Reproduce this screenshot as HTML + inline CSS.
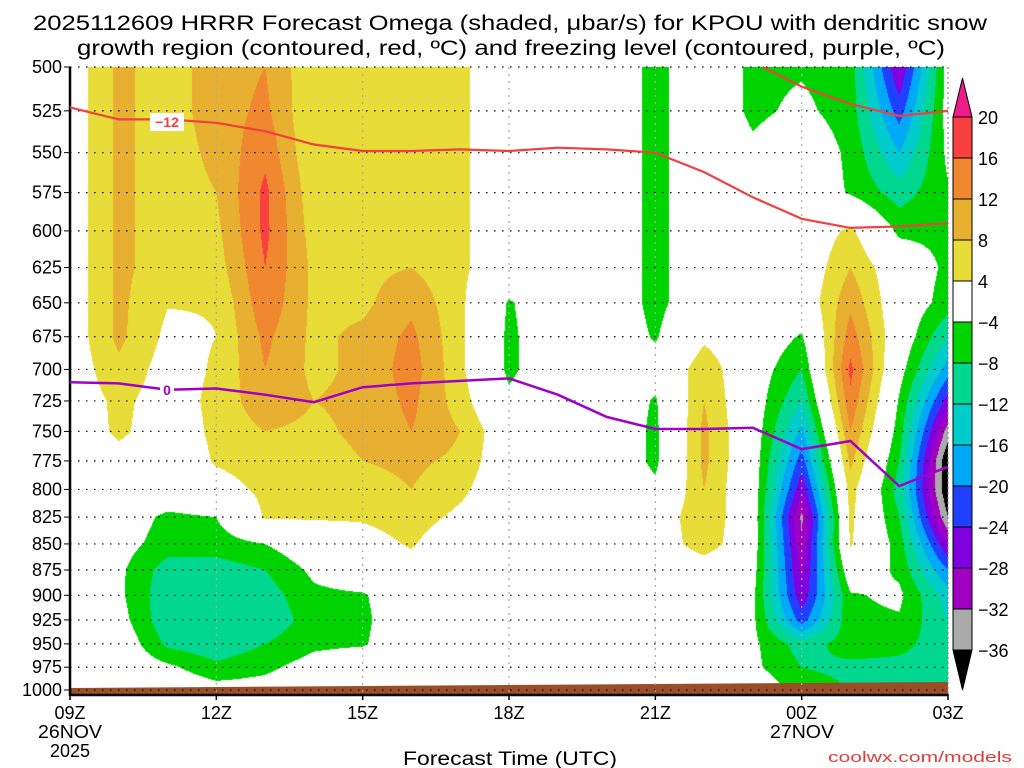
<!DOCTYPE html>
<html><head><meta charset="utf-8">
<style>
body{margin:0;background:#fff;width:1024px;height:768px;overflow:hidden;font-family:"Liberation Sans",sans-serif}
#wrap{position:relative;width:1024px;height:768px}
canvas{position:absolute;left:70px;top:67px}
svg{position:absolute;left:0;top:0}
</style></head><body>
<div id="wrap">
<canvas id="cv" width="878" height="623"></canvas>
<svg id="sv" width="1024" height="768"></svg>
</div>
<script>
// ---- data ----
const hours = ["09Z","10Z","11Z","12Z","13Z","14Z","15Z","16Z","17Z","18Z","19Z","20Z","21Z","22Z","23Z","00Z","01Z","02Z","03Z"];
const levels = [500,525,550,575,600,625,650,675,700,725,750,775,800,825,850,875,900,925,950,975,1000];
const tickLabels = ["09Z","12Z","15Z","18Z","21Z","00Z","03Z"];
const tickHours = [0,3,6,9,12,15,18];
// omega [hour][level]
const omega = [
[1,1,1,1,1,1,1,1,1,1,0,0,0,0,0,0,0,0,0,0,0],
[9,9,9,9,9,9,9,9,7,5,5,2,0,-1,-2,-3,-3,-2,0,0,0],
[6,6,6,6,6,6,4.2,3,2,2,1,0,0,-5,-6,-10,-11,-11,-9,-3,0],
[10,10,9,8,7,6,4.2,4,4.5,5,5,4.5,2,-4,-6,-10,-11.5,-11.5,-11,-7,-2],
[12,13,15,17,17,16,15,13,12,11,8,6,5,4.5,-4,-8,-10,-11,-8,-5,-2],
[4.5,4,4,5,6,7,7,7,7,8,7,6,6,4.5,0,-3,-5,-6,-5,-2,0],
[6,6,6,6,7,7,7,9,9,9,9,8,6,4.5,2,0,-4.5,-5,-4.5,0,0],
[5,5,5,6,7,8,11,13,14,13,12,9,8,6,4.5,2,0,0,0,0,0],
[5,5,5,5,5,5,5,5,5,6,8,7,5,3,0,0,0,0,0,0,0],
[0,0,0,0,0,0,-4.5,-5,-5,-3,0,0,0,0,0,0,0,0,0,0,0],
[0,0,0,0,0,0,0,0,0,0,0,0,0,0,0,0,0,0,0,0,0],
[0,0,0,0,0,0,0,0,0,0,0,0,0,0,0,0,0,0,0,0,0],
[-5.5,-5.5,-5.5,-5.5,-5.5,-5.5,-5.5,-4.5,-2,-4.5,-5,-5,-3,0,0,0,0,0,0,0,0],
[0,0,0,0,0,0,0,3,7,8,9,9,8,8,7,0,0,0,0,0,0],
[-5,-5,-3,0,0,0,0,0,-1,-1,-1,-1,-1,-1,-1,-2,-3,-3,-3,-3,0],
[-4.5,-3,0,0,0,0,0,-4.5,-8,-12,-17,-22,-27,-33,-31,-29,-27,-22,-10,-8,-6],
[-6,-6,-5,-4.5,5,8,11,14,17,15,12,9,6,5,4.5,0,-4.5,-5,-6,-9,-8],
[-28,-22,-16,-10,-5,0,0,0,-2,-4.5,-6,-8,-10,-8,-6,-5,-3,-4.5,-7,-9,-9],
[-2,-2,-3,-4.5,-5,-5,-6,-12,-18,-26,-34,-40,-40,-36,-28,-20,-14,-12,-10,-9,-9]
];
const isoM12 = [523,530,530,532,537,545,549,549,548,549,547,548,550,562,578,592,598,597,595];
const isoTopHours = [14.2,15,16,17,18];
const isoTopP = [500,511,521,528,525];
const frzLevel = [710,711,716,715,720,726,714,711,709,707,720,738,748,748,747,765,758,797,780];
const cbLabels = ["20","16","12","8","4","-4","-8","-12","-16","-20","-24","-28","-32","-36"];
const binEdges = [20,16,12,8,4,-4,-8,-12,-16,-20,-24,-28,-32,-36];
const binColors = ["#ee1a8a","#f84040","#f08830","#e8b030","#e8dc38","#ffffff","#00d400","#00d890","#00cccc","#00a8f8","#2040ff","#8000e0","#a000c0","#aaaaaa","#000000"];

// ---- axes ----
const X0=70,X1=948,Y0=67,Y1=690;
const xOf=h=>X0+h*(X1-X0)/18;
const yOf=p=>Y0+Math.log(p/500)/Math.log(2)*(Y1-Y0);
const pOf=y=>500*Math.pow(2,(y-Y0)/(Y1-Y0));
function colorFor(v){for(let i=0;i<binEdges.length;i++){if(v>=binEdges[i])return binColors[i];}return binColors[14];}

// ---- shading ----
const cv=document.getElementById('cv'),ctx=cv.getContext('2d');
const img=ctx.createImageData(878,623);
const cache={};
function rgb(c){if(!cache[c])cache[c]=[parseInt(c.substr(1,2),16),parseInt(c.substr(3,2),16),parseInt(c.substr(5,2),16)];return cache[c];}
const lnL=levels.map(p=>Math.log(p));
for(let py=0;py<623;py++){
  const lp=Math.log(pOf(Y0+py+0.5));
  let j=0;while(j<levels.length-2&&lp>lnL[j+1])j++;
  let fy=(lp-lnL[j])/(lnL[j+1]-lnL[j]);fy=Math.max(0,Math.min(1,fy));
  for(let px=0;px<878;px++){
    const h=(px+0.5)/(878/18);let i=Math.min(17,Math.floor(h));const fx=h-i;
    const v=(omega[i][j]*(1-fx)+omega[i+1][j]*fx)*(1-fy)+(omega[i][j+1]*(1-fx)+omega[i+1][j+1]*fx)*fy;
    const c=rgb(colorFor(v));const k=(py*878+px)*4;
    img.data[k]=c[0];img.data[k+1]=c[1];img.data[k+2]=c[2];img.data[k+3]=255;
  }
}
ctx.putImageData(img,0,0);

// ---- svg overlay ----
const sv=document.getElementById('sv');const NS="http://www.w3.org/2000/svg";
function mk(t,a,par){const e=document.createElementNS(NS,t);for(const k in a)e.setAttribute(k,a[k]);(par||sv).appendChild(e);return e;}
let e;
// terrain
e=mk('polygon',{points:`${X0},${694} ${X0},688 ${X1},682 ${X1},694`,fill:'#9a4e28'});


// grid
levels.forEach(p=>{
  e=mk('line',{x1:X0,x2:X1,y1:yOf(p),y2:yOf(p),stroke:'#000','stroke-width':1.2,'stroke-dasharray':'1.5 6.5'});
  
  
  e=mk('line',{x1:X0-6,x2:X0,y1:yOf(p),y2:yOf(p),stroke:'#000','stroke-width':1});
  e=mk('text',{x:X0-8,y:yOf(p)+6,'text-anchor':'end','font-size':18,fill:'#000'});
  e.textContent=p;
  
  
});
tickHours.forEach((h,i)=>{
  if(i>0&&i<6){e=mk('line',{x1:xOf(h),x2:xOf(h),y1:Y0,y2:694,stroke:'#aaa','stroke-width':1.2,'stroke-dasharray':'2 5'});
  
  }
  e=mk('line',{x1:xOf(h),x2:xOf(h),y1:694,y2:700,stroke:'#000','stroke-width':1.5});
  e=mk('text',{x:xOf(h),y:719,'text-anchor':'middle','font-size':18});
  e.textContent=tickLabels[i];
  
  
});
e=mk('line',{x1:X1,x2:X1,y1:Y0,y2:694,stroke:'#888','stroke-width':1.2,'stroke-dasharray':'2 3'});
e=mk('line',{x1:X0,x2:X0,y1:Y0,y2:696,stroke:'#000','stroke-width':2.5});


e=mk('line',{x1:X0,x2:X1,y1:695,y2:695,stroke:'#000','stroke-width':2.5});


// lines
function path(hs,ps){return hs.map((h,i)=>(i?'L':'M')+xOf(h).toFixed(1)+','+yOf(ps[i]).toFixed(1)).join(' ');}
const allH=hours.map((_,i)=>i);
e=mk('path',{d:path(allH,isoM12),fill:'none',stroke:'#f04040','stroke-width':2.2});


e=mk('path',{d:path(isoTopHours,isoTopP),fill:'none',stroke:'#f04040','stroke-width':2.2});


e=mk('path',{d:path(allH,frzLevel),fill:'none',stroke:'#a000c8','stroke-width':2.5});


e=mk('rect',{x:150,y:113,width:34,height:18,fill:'#fff'});
e=mk('text',{x:167,y:127,'text-anchor':'middle','font-size':14,'font-weight':'bold',fill:'#f04040'});e.textContent='−12';


e=mk('rect',{x:160,y:382,width:14,height:16,fill:'#fff'});
e=mk('text',{x:167,y:395,'text-anchor':'middle','font-size':14,'font-weight':'bold',fill:'#a000c8'});e.textContent='0';


// colorbar
const cbX=953,cbW=19,top0=117,step=41;
e=mk('polygon',{points:`${cbX},${top0} ${cbX+cbW/2},78 ${cbX+cbW},${top0}`,fill:binColors[0],stroke:'#000','stroke-width':1});


for(let i=1;i<14;i++){
  e=mk('rect',{x:cbX,y:top0+(i-1)*step,width:cbW,height:step,fill:binColors[i],stroke:'#000','stroke-width':1});
  
  
}
e=mk('polygon',{points:`${cbX},${top0+13*step} ${cbX+cbW/2},690 ${cbX+cbW},${top0+13*step}`,fill:'#000',stroke:'#000'});


cbLabels.forEach((l,i)=>{
  e=mk('text',{x:978,y:top0+i*step+7,'font-size':18});e.textContent=l.replace('-','−');
  
  
});
// titles
function txt(s,x,y,fs,anchor,fill,name,len){const a={x:x,y:y,'font-size':fs,'text-anchor':anchor,fill:fill||'#000'};if(len){a.textLength=len;a.lengthAdjust='spacingAndGlyphs';}e=mk('text',a);e.textContent=s;

}
txt('2025112609 HRRR Forecast Omega (shaded, μbar/s) for KPOU with dendritic snow',510,30,21,'middle','#000','title-line-1',954);
txt('growth region (contoured, red, ºC) and freezing level (contoured, purple, ºC)',511,55,21,'middle','#000','title-line-2',868);
txt('26NOV',70,738,18,'middle','#000','start-date-label',64);
txt('2025',70,757,18,'middle','#000','start-year-label');
txt('27NOV',802,738,18,'middle','#000','next-date-label',64);
txt('Forecast Time (UTC)',510,765,19,'middle','#000','x-axis-title',214);
txt('coolwx.com/models',1012,762,15,'end','#e03c3c','watermark',184);
</script>
</body></html>
